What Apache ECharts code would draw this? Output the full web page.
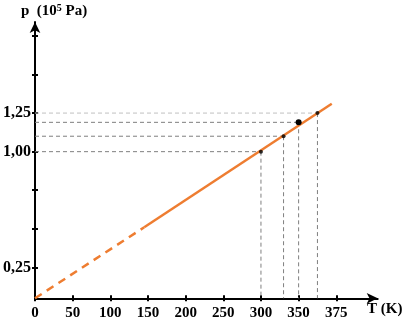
<!DOCTYPE html>
<html>
<head>
<meta charset="utf-8">
<script src="https://cdn.jsdelivr.net/npm/echarts@6/dist/echarts.min.js"></script>
<style>html,body{margin:0;padding:0;background:#fff}#c{width:406px;height:325px}</style>
</head>
<body>
<div id="c"></div>
<script>
// ---- data ----
var xTickValues = [0, 50, 100, 150, 200, 250, 300, 350, 400];
var xTickLabels = ['0', '50', '100', '150', '200', '250', '300', '350', '375'];
var yTickValues = [0.25, 0.5, 0.75, 1.0, 1.25, 1.5, 1.75];
var yLabelValues = [0.25, 1.0, 1.25];
var yLabelTexts = ['0,25', '1,00', '1,25'];
// isochoric line p(T): dashed extrapolated part, then measured part
var lineT = [0, 145, 394];
var lineP = [0.05, 0.51, 1.31];
// measured states (T in K, p in 10^5 Pa)
var pointT = [300, 330, 350, 375];
var pointP = [1.00, 1.10, 1.19, 1.25];
var xMin = 0, xMax = 455, yMin = 0.05, yMax = 1.84;

var FONT = '"Liberation Serif", "Times New Roman", serif';
var gridRect = {left: 35, right: 28.3, top: 22, bottom: 26.7};

var series = [];
// dashed guide lines
for (var i = 0; i < pointT.length; i++) {
  var hColor = (i === pointT.length - 1) ? '#c0c0c0' : '#7f7f7f';
  series.push({
    type: 'line', xAxisIndex: 0, yAxisIndex: 0, symbol: 'none', silent: true,
    data: [[xMin, pointP[i]], [pointT[i], pointP[i]]],
    lineStyle: {color: hColor, width: 1, type: [4, 3]}, z: 1
  });
  series.push({
    type: 'line', xAxisIndex: 0, yAxisIndex: 0, symbol: 'none', silent: true,
    data: [[pointT[i], pointP[i]], [pointT[i], yMin]],
    lineStyle: {color: '#7f7f7f', width: 1, type: [4, 3]}, z: 1
  });
}
// orange line
series.push({
  type: 'line', xAxisIndex: 0, yAxisIndex: 0, symbol: 'none',
  data: [[lineT[0], lineP[0]], [lineT[1], lineP[1]]],
  lineStyle: {color: '#ee7d31', width: 2.5, type: [8, 6]}, z: 3
});
series.push({
  type: 'line', xAxisIndex: 0, yAxisIndex: 0, symbol: 'none',
  data: [[lineT[1], lineP[1]], [lineT[2], lineP[2]]],
  lineStyle: {color: '#ee7d31', width: 2.5}, z: 3
});
// dots
var smallDots = [], bigDots = [];
for (var j = 0; j < pointT.length; j++) {
  if (j === 2) bigDots.push([pointT[j], pointP[j]]);
  else smallDots.push([pointT[j], pointP[j]]);
}
series.push({type: 'scatter', xAxisIndex: 0, yAxisIndex: 0, data: smallDots, symbolSize: 4,
  itemStyle: {color: '#000'}, z: 5});
series.push({type: 'scatter', xAxisIndex: 0, yAxisIndex: 0, data: bigDots, symbolSize: 6,
  itemStyle: {color: '#000', opacity: 1}, z: 5});

var axisLineStyle = {color: '#000', width: 2};

var option = {
  animation: false,
  backgroundColor: '#fff',
  grid: [
    Object.assign({}, gridRect),
    Object.assign({}, gridRect)
  ],
  xAxis: [
    {
      type: 'value', gridIndex: 0, min: xMin, max: xMax,
      axisLine: {show: true, onZero: false, lineStyle: axisLineStyle, symbol: ['none', 'arrow'], symbolSize: [8, 11]},
      axisTick: {show: true, customValues: xTickValues, length: 3, lineStyle: {color: '#000', width: 2}},
      axisLabel: {show: true, customValues: xTickValues, margin: 7, color: '#000',
        fontFamily: FONT, fontWeight: 'bold', fontSize: 15,
        formatter: function (v) { return xTickLabels[xTickValues.indexOf(v)]; }},
      splitLine: {show: false}
    },
    {
      type: 'value', gridIndex: 1, min: xMin, max: xMax,
      axisLine: {show: false, onZero: false},
      axisTick: {show: true, inside: true, customValues: xTickValues, length: 3, lineStyle: {color: '#000', width: 2}},
      axisLabel: {show: false},
      splitLine: {show: false}
    }
  ],
  yAxis: [
    {
      type: 'value', gridIndex: 0, min: yMin, max: yMax,
      axisLine: {show: true, onZero: false, lineStyle: axisLineStyle, symbol: ['none', 'arrow'], symbolSize: [8, 11]},
      axisTick: {show: true, customValues: yTickValues, length: 3, lineStyle: {color: '#000', width: 2}},
      axisLabel: {show: true, customValues: yLabelValues, margin: 4, color: '#000',
        fontFamily: FONT, fontWeight: 'bold', fontSize: 16,
        formatter: function (v) { return yLabelTexts[yLabelValues.indexOf(v)]; }},
      splitLine: {show: false}
    },
    {
      type: 'value', gridIndex: 1, min: yMin, max: yMax,
      axisLine: {show: false, onZero: false},
      axisTick: {show: true, inside: true, customValues: yTickValues, length: 3, lineStyle: {color: '#000', width: 2}},
      axisLabel: {show: false},
      splitLine: {show: false}
    }
  ],
  graphic: [
    {
      type: 'text', left: 21, top: 3,
      style: {
        text: 'p  (10{s|5} Pa)',
        font: 'bold 15px ' + FONT, fill: '#000',
        rich: {s: {fontSize: 10, fontWeight: 'bold', fontFamily: FONT, verticalAlign: 'top', padding: [0, 0, 6, 0]}}
      }
    },
    {
      type: 'text', left: 367, top: 302,
      style: {text: 'T (K)', font: 'bold 15px ' + FONT, fill: '#000'}
    }
  ],
  series: series
};

var chart = echarts.init(document.getElementById('c'), null, {renderer: 'canvas'});
chart.setOption(option);
</script>
</body>
</html>
